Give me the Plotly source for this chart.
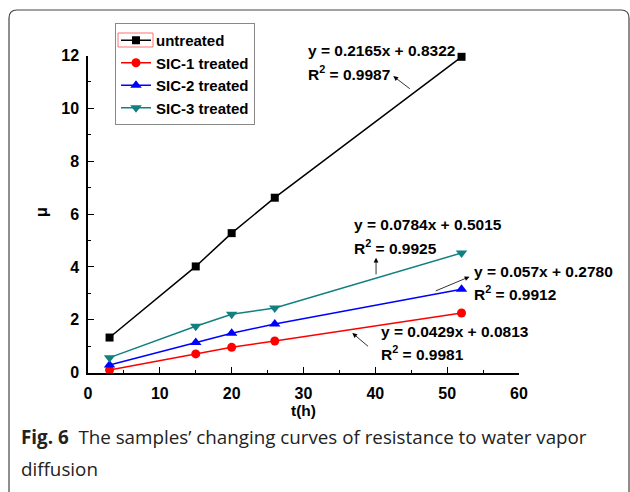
import plotly.graph_objects as go

# ---- data ----
t_hours = [3, 15, 20, 26, 52]
untreated = [1.33, 4.02, 5.28, 6.62, 11.95]
sic1 = [0.10, 0.71, 0.96, 1.20, 2.26]
sic2 = [0.29, 1.14, 1.49, 1.84, 3.16]
sic3 = [0.57, 1.76, 2.21, 2.45, 4.53]

series_names = ["untreated", "SIC-1 treated", "SIC-2 treated", "SIC-3 treated"]
series_values = [untreated, sic1, sic2, sic3]
series_colors = ["#000000", "#FF0000", "#0000FF", "#108080"]
series_symbols = ["square", "circle", "triangle-up", "triangle-down"]
series_sizes = [8, 9, 10, 10]

fit_lines = [
    ("y = 0.2165x + 0.8322", "R<sup>2</sup> = 0.9987"),
    ("y = 0.0784x + 0.5015", "R<sup>2</sup> = 0.9925"),
    ("y = 0.057x + 0.2780", "R<sup>2</sup> = 0.9912"),
    ("y = 0.0429x + 0.0813", "R<sup>2</sup> = 0.9981"),
]
x_ticks = [0, 10, 20, 30, 40, 50, 60]
y_ticks = [0, 2, 4, 6, 8, 10, 12]

caption_bold = "Fig. 6"
caption_rest = "The samples’ changing curves of resistance to water vapor"
caption_line2 = "diffusion"

W, H = 630, 492
AX_FONT = "Liberation Sans, Arial, sans-serif"

fig = go.Figure()
for name, vals, col, sym, sz in zip(series_names, series_values, series_colors,
                                     series_symbols, series_sizes):
    fig.add_trace(go.Scatter(
        x=t_hours, y=vals, name=name, mode="lines+markers",
        line=dict(color=col, width=1.5),
        marker=dict(symbol=sym, size=sz, color=col),
        cliponaxis=False,
    ))

def px2paper(px, py):
    return px / W, (H - py) / H

ann = []
# equation text positions in pixels: left x, line1 center y, line2 center y
eq_pos = [
    (306, 51, 73),
    (352, 224, 247),
    (472, 271, 293),
    (379, 331, 353),
]
for (l1, l2), (ex, ey1, ey2) in zip(fit_lines, eq_pos):
    for txt, yy in ((l1, ey1), (l2, ey2)):
        xp, yp = px2paper(ex, yy)
        ann.append(dict(x=xp, y=yp, xref="paper", yref="paper", text=txt, showarrow=False,
                        xanchor="left", yanchor="middle",
                        font=dict(family=AX_FONT, size=15.5, color="#000", weight="bold")))

# arrows: head (x,y), tail (ax,ay) in data coords
arrows = [
    (42.5, 11.22, 45.0, 10.7),
    (40.1, 4.35, 40.1, 3.66),
    (53.1, 3.63, 48.2, 3.07),
    (36.8, 1.50, 39.2, 0.95),
]
for hx, hy, tx, ty in arrows:
    ann.append(dict(x=hx, y=hy, ax=tx, ay=ty, xref="x", yref="y", axref="x", ayref="y",
                    text="", showarrow=True, arrowhead=2, arrowsize=1.2,
                    arrowwidth=0.8, arrowcolor="#000", standoff=0, startstandoff=0))

# axis titles
xt, yt = px2paper(303, 410)
ann.append(dict(x=xt, y=yt, xref="paper", yref="paper", text="t(h)", showarrow=False,
                xanchor="center", yanchor="middle",
                font=dict(family=AX_FONT, size=15.5, color="#000", weight="bold")))
xt, yt = px2paper(41, 212)
ann.append(dict(x=xt, y=yt, xref="paper", yref="paper", text="μ", showarrow=False,
                textangle=-90, xanchor="center", yanchor="middle",
                font=dict(family=AX_FONT, size=16, color="#000", weight="bold")))

# caption
xt, yt = px2paper(19, 437)
ann.append(dict(x=xt, y=yt, xref="paper", yref="paper",
                text="<b>" + caption_bold + "</b>  " + caption_rest,
                showarrow=False, xanchor="left", yanchor="middle",
                font=dict(family="Open Sans, sans-serif", size=18.8, color="#222")))
xt, yt = px2paper(19, 469)
ann.append(dict(x=xt, y=yt, xref="paper", yref="paper", text=caption_line2,
                showarrow=False, xanchor="left", yanchor="middle",
                font=dict(family="Open Sans, sans-serif", size=18.8, color="#222")))

# frame (rounded rectangle, bottom edge out of view)
r = 8
x0, y0, x1, y1 = 9, 10, 629, 510
def P(px, py):
    a, b = px2paper(px, py)
    return f"{a:.5f},{b:.5f}"
path = (f"M {P(x0, y1)} L {P(x0, y0 + r)} Q {P(x0, y0)} {P(x0 + r, y0)} "
        f"L {P(x1 - r, y0)} Q {P(x1, y0)} {P(x1, y0 + r)} L {P(x1, y1)}")
shapes = [dict(type="path", path=path, xref="paper", yref="paper",
               line=dict(color="#444", width=1.2))]
# red selection box around first legend symbol
bx0, by0 = px2paper(118, 47)
bx1, by1 = px2paper(153, 33)
shapes.append(dict(type="rect", x0=bx0, y0=by0, x1=bx1, y1=by1, xref="paper",
                   yref="paper", line=dict(color="#FF7070", width=1), layer="above"))

axis_common = dict(
    showline=True, linecolor="#000", linewidth=1.5, mirror=False,
    ticks="inside", ticklen=6, tickwidth=1.3, tickcolor="#000",
    showgrid=False, zeroline=False, automargin=False,
    tickfont=dict(family=AX_FONT, size=16, color="#000", weight="bold"),
)

fig.update_layout(
    width=W, height=H, autosize=False,
    margin=dict(l=0, r=0, t=0, b=0, pad=0),
    paper_bgcolor="white", plot_bgcolor="white",
    xaxis=dict(range=[0, 60], domain=[88 / W, 519 / W], tickvals=x_ticks,
               minor=dict(dtick=5, ticklen=3, ticks="inside", tickcolor="#000", tickwidth=1.2),
               ticklabelstandoff=5, **axis_common),
    yaxis=dict(range=[0, 12], domain=[(H - 372.7) / H, (H - 55.5) / H], tickvals=y_ticks,
               minor=dict(dtick=1, ticklen=3, ticks="inside", tickcolor="#000", tickwidth=1.2),
               ticklabelstandoff=4, **axis_common),
    legend=dict(x=115 / W, y=(H - 23) / H, xanchor="left", yanchor="top",
                bordercolor="#888", borderwidth=1, bgcolor="rgba(255,255,255,0)",
                font=dict(family=AX_FONT, size=15, color="#000", weight="bold"),
                tracegroupgap=0, itemwidth=30,
                entrywidth=104, entrywidthmode="pixels"),
    showlegend=True,
    annotations=ann,
    shapes=shapes,
)

fig.write_html("out.html",
               post_script="document.body.style.margin='0';document.body.style.overflow='hidden';")
